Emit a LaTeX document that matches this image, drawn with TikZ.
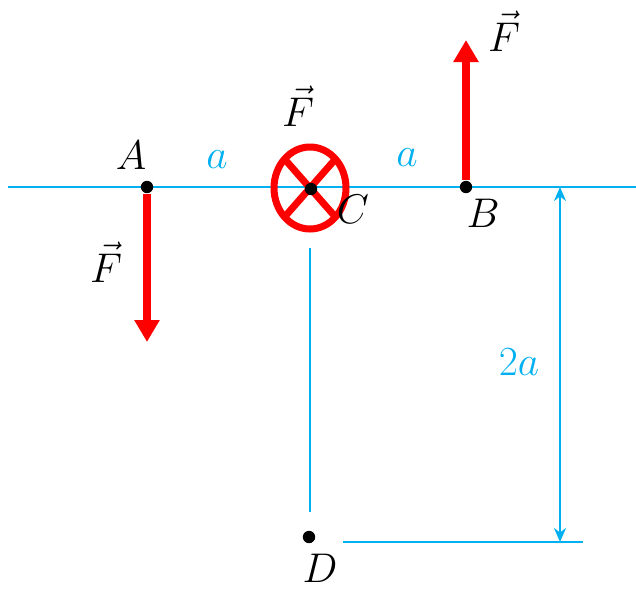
\documentclass[tikz,border=0pt]{standalone}
\usetikzlibrary{arrows.meta}
\definecolor{fldRed}{HTML}{FF0000}
\definecolor{fldCyan}{HTML}{00B0F0}
\tikzset{
  fld line/.style={draw=fldCyan, line width=0.75pt},
  fld dim/.style={draw=fldCyan, line width=1.2pt, {Stealth[length=7pt,width=6pt]}-{Stealth[length=7pt,width=6pt]}},
  fld force/.style={draw=fldRed, line width=3.8pt, -{Triangle[length=11pt,width=12pt]}},
  fld ring/.style={draw=fldRed, line width=3.5pt},
  fld dot/.style={circle, fill=black, minimum size=6.2pt, inner sep=0pt},
  fld label/.style={font=\fontsize{20}{24}\selectfont, text=black, inner sep=1pt},
  fld dist/.style={font=\fontsize{20}{24}\selectfont, text=fldCyan, inner sep=1pt},
}

\begin{document}
\begin{tikzpicture}[x=0.5pt, y=-0.5pt]
  \useasboundingbox (0,0) rectangle (636,590);
  % ----- guide lines -----
  \coordinate (lineL) at (8,187);
  \coordinate (lineR) at (636,187);
  \draw[fld line] (lineL) -- (lineR);
  \coordinate (vTop) at (310,248);
  \coordinate (vBot) at (310,512);
  \draw[fld line] (vTop) -- (vBot);
  \coordinate (hL) at (343,542);
  \coordinate (hR) at (583,542);
  \draw[fld line] (hL) -- (hR);
  % dimension 2a
  \coordinate (dimTop) at (560,187);
  \coordinate (dimBot) at (560,542);
  \draw[fld dim] (dimTop) -- (dimBot);
  \node[fld dist] (dimLbl) at (519,362) {$2a$};
  % ----- current into the page at C -----
  \coordinate (ringC) at (310,188);
  \draw[fld ring] (ringC) ellipse [x radius=18pt, y radius=20.5pt];
  \draw[fld ring] (ringC) +(135:18pt and 20.5pt) -- +(-45:18pt and 20.5pt);
  \draw[fld ring] (ringC) +(45:18pt and 20.5pt) -- +(225:18pt and 20.5pt);
  % ----- points -----
  \node[fld dot] (A) at (147,187) {};
  \node[fld dot] (B) at (466,187) {};
  \node[fld dot] (C) at (311,189) {};
  \node[fld dot] (D) at (309,537) {};
  % ----- forces at A and B -----
  \coordinate (tipA) at (147,342);
  \coordinate (tipB) at (466,40);
  \draw[fld force] (A) -- (tipA);
  \draw[fld force] (B) -- (tipB);
  % ----- labels -----
  \node[fld label] (lblA) at (131,155) {$A$};
  \node[fld label] (lblB) at (483,213) {$B$};
  \node[fld label] (lblC) at (353,209) {$C$};
  \node[fld label] (lblD) at (320,568) {$D$};
  \node[fld dist] (distAC) at (217,160) {$a$};
  \node[fld dist] (distCB) at (407,158) {$a$};
  \node[fld label] (forceA) at (106,262) {$\vec{F}$};
  \node[fld label] (forceB) at (504,31) {$\vec{F}$};
  \node[fld label] (forceC) at (298,106) {$\vec{F}$};
\end{tikzpicture}
\end{document}
